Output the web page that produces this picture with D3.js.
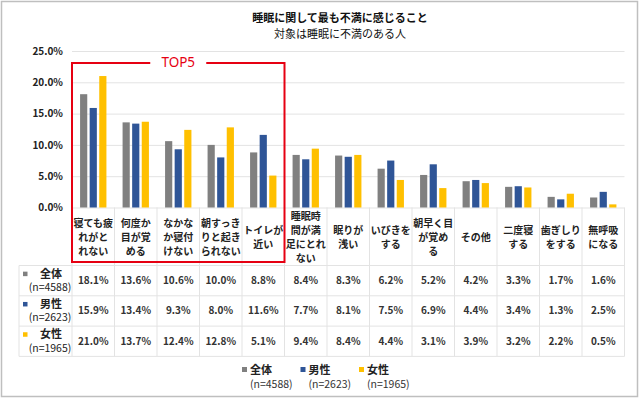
<!DOCTYPE html>
<html><head><meta charset="utf-8">
<script src="https://cdn.jsdelivr.net/npm/d3@7"></script>
<style>
html,body{margin:0;padding:0;background:#fff;}
svg{display:block;font-family:"Noto Sans CJK JP","Noto Sans",sans-serif;}
</style></head>
<body><svg id="c" width="640" height="399"></svg>
<script>
const categories = ["寝ても疲\nれがと\nれない","何度か\n目が覚\nめる","なかな\nか寝付\nけない","朝すっき\nりと起き\nられない","トイレが\n近い","睡眠時\n間が満\n足にとれ\nない","眠りが\n浅い","いびきを\nする","朝早く目\nが覚め\nる","その他","二度寝\nする","歯ぎしり\nをする","無呼吸\nになる"];
const seriesNames = ["全体","男性","女性"];
const seriesN = ["(n=4588)","(n=2623)","(n=1965)"];
const overall = [18.1,13.6,10.6,10.0,8.8,8.4,8.3,6.2,5.2,4.2,3.3,1.7,1.6];
const male    = [15.9,13.4,9.3,8.0,11.6,7.7,8.1,7.5,6.9,4.4,3.4,1.3,2.5];
const female  = [21.0,13.7,12.4,12.8,5.1,9.4,8.4,4.4,3.1,3.9,3.2,2.2,0.5];
const yTicks = [0,5,10,15,20,25];
const titleLines = ["睡眠に関して最も不満に感じること","対象は睡眠に不満のある人"];
const highlightLabel = "TOP5";
const highlightCount = 5;

const colors = ["#808080","#2f5597","#ffc000"];
const series = [overall, male, female];

const svg = d3.select("#c");
const W = 640, H = 399;
const left = 72, right = 624.5, yBase = 207.5, yTop = 51;
const labelBottom = 265.5, rowH = 30.3;
const tableLeft = 19;

// outer border
svg.append("rect").attr("x",1.5).attr("y",1.5).attr("width",W-4).attr("height",H-4)
  .attr("fill","#fff").attr("stroke","#bfbfbf").attr("stroke-width",1.5);

// title
svg.selectAll("text.title").data(titleLines).join("text")
  .attr("class","title").attr("x",340).attr("y",(d,i)=>22+i*15.5)
  .attr("text-anchor","middle").attr("font-size",11)
  .attr("font-weight",(d,i)=>i===0?"bold":"normal").attr("fill","#111").text(d=>d);

const x0 = d3.scaleBand().domain(d3.range(categories.length)).range([left,right])
  .paddingInner(0.38).paddingOuter(0.19);
const x1 = d3.scaleBand().domain(d3.range(series.length)).range([0,x0.bandwidth()]).paddingInner(0.25);
const y = d3.scaleLinear().domain([0,25]).range([yBase,yTop]);
const step = x0.step();

// gridlines
const yAxis = d3.axisLeft(y).tickValues(yTicks).tickSize(-(right-left)).tickFormat(d=>d.toFixed(1)+"%");
const ga = svg.append("g").attr("transform",`translate(${left},0)`).call(yAxis);
ga.select(".domain").remove();
ga.selectAll(".tick line").attr("stroke","#e3e3e3").attr("stroke-width",1);
ga.selectAll(".tick text").attr("x",-9).attr("font-size",10).attr("font-weight","bold")
  .attr("fill","#222").attr("font-family","'Noto Sans CJK JP','Noto Sans',sans-serif");

// table grid
const grid = svg.append("g").attr("stroke","#e3e3e3").attr("stroke-width",1);
const bounds = d3.range(categories.length+1).map(i=>left+i*step);
grid.selectAll("line.v").data(bounds).join("line")
  .attr("x1",d=>d).attr("x2",d=>d).attr("y1",yBase).attr("y2",labelBottom+3*rowH);
grid.append("line").attr("x1",tableLeft).attr("x2",tableLeft).attr("y1",labelBottom).attr("y2",labelBottom+3*rowH);
grid.selectAll("line.h").data(d3.range(4)).join("line")
  .attr("x1",tableLeft).attr("x2",right).attr("y1",d=>labelBottom+d*rowH).attr("y2",d=>labelBottom+d*rowH);

// bars
const gBars = svg.append("g");
categories.forEach((c,ci)=>{
  series.forEach((s,si)=>{
    gBars.append("rect").attr("x",x0(ci)+x1(si)).attr("width",x1.bandwidth())
      .attr("y",y(s[ci])).attr("height",yBase-y(s[ci])).attr("fill",colors[si]);
  });
});

// category labels
const lh = 14, labelCenter = 236.5;
categories.forEach((c,ci)=>{
  const lines = c.split("\n");
  const t = svg.append("text").attr("text-anchor","middle").attr("font-size",10)
    .attr("font-weight","bold").attr("fill","#222");
  lines.forEach((ln,li)=>{
    t.append("tspan").attr("x",x0(ci)+x0.bandwidth()/2)
      .attr("y",labelCenter+(li-(lines.length-1)/2)*lh+4).text(ln);
  });
});

// table values
series.forEach((s,si)=>{
  const cy = labelBottom+(si+0.5)*rowH;
  svg.append("g").selectAll("text").data(s).join("text")
    .attr("x",(d,i)=>x0(i)+x0.bandwidth()/2).attr("y",cy+3.5)
    .attr("text-anchor","middle").attr("font-size",10).attr("font-weight","bold").attr("fill","#333")
    .text(d=>d.toFixed(1)+"%");
  // row header
  svg.append("rect").attr("x",23).attr("y",cy-9).attr("width",4.5).attr("height",4.5).attr("fill",colors[si]);
  svg.append("text").attr("x",51).attr("y",cy-3).attr("text-anchor","middle").attr("font-size",11)
    .attr("font-weight","bold").attr("fill","#222").text(seriesNames[si]);
  svg.append("text").attr("x",50).attr("y",cy+10.5).attr("text-anchor","middle").attr("font-size",10.5)
    .attr("fill","#222").text(seriesN[si]);
});

// highlight box
const boxX = left, boxR = x0(highlightCount-1)+x0.bandwidth()+step*0.19;
svg.append("rect").attr("x",boxX).attr("y",63).attr("width",boxR-boxX).attr("height",199)
  .attr("fill","none").attr("stroke","#e60012").attr("stroke-width",2);
const cx = (boxX+boxR)/2;
svg.append("rect").attr("x",cx-28).attr("y",55).attr("width",56).attr("height",14).attr("fill","#fff");
svg.append("text").attr("x",cx).attr("y",66.5).attr("text-anchor","middle").attr("font-size",13.5)
  .attr("fill","#e60012").attr("font-family","'Noto Sans','Open Sans',sans-serif").text(highlightLabel);

// legend
const lg = svg.append("g");
seriesNames.forEach((n,i)=>{
  const lx = 242+i*58.5;
  lg.append("rect").attr("x",lx).attr("y",367).attr("width",5).attr("height",5).attr("fill",colors[i]);
  lg.append("text").attr("x",lx+8).attr("y",374).attr("font-size",11).attr("font-weight","bold")
    .attr("fill","#222").text(n);
  lg.append("text").attr("x",lx+8).attr("y",388).attr("font-size",10.5).attr("fill","#333").text(seriesN[i]);
});
</script></body></html>
